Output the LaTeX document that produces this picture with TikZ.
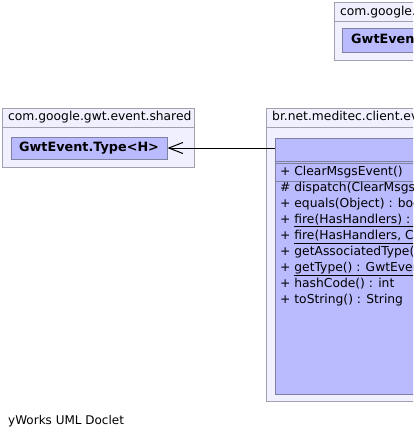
\documentclass[tikz,border=0pt]{standalone}
\usepackage{fontspec}
\setmainfont{DejaVu Sans}
\usetikzlibrary{arrows.meta}
\definecolor{pkgfill}{RGB}{240,240,255}
\definecolor{pkgdraw}{RGB}{160,160,176}
\definecolor{clsfill}{RGB}{186,186,255}
\definecolor{clsdraw}{RGB}{128,128,160}
\tikzset{
  pkgbox/.style={draw=pkgdraw, fill=pkgfill, line width=1pt},
  clsbox/.style={draw=clsdraw, fill=clsfill, line width=1pt},
  lbl/.style={anchor=west, inner sep=0pt, text height=9pt, text depth=3pt, font=\fontsize{12.3}{14}\selectfont},
  blbl/.style={lbl, font=\fontsize{12.8}{14}\selectfont\bfseries},
  sep/.style={draw=clsdraw, line width=1pt},
  hsep/.style={draw=pkgdraw, line width=1pt},
  arr/.style={line width=1pt, -{Straight Barb[length=14pt, width=11pt, line width=1pt]}}
}
\begin{document}
\begin{tikzpicture}[x=1pt, y=-1pt]
\useasboundingbox (0,0) rectangle (413,439);
\fill[white] (0,0) rectangle (413,439);
\clip (0,0) rectangle (413,439);

% top-right package
\path[pkgbox] (334.5,2.5) rectangle (700,60.5);
\coordinate (tl) at (334.5,21.5);
\draw[hsep] (tl) -- (700,21.5);
\node[lbl] (tph) at (340,12) {com.google.gwt.event.shared};
\path[clsbox] (342.5,28.5) rectangle (700,52.5);
\node[blbl] (tpc) at (351,40) {GwtEvent<H>};

% left package
\path[pkgbox] (2.5,108.5) rectangle (194.5,167.5);
\draw[hsep] (2.5,127.5) -- (194.5,127.5);
\node[lbl] (lph) at (8,117) {com.google.gwt.event.shared};
\node[clsbox, anchor=north west, minimum width=156pt, minimum height=22pt, inner sep=0pt] (clsA) at (10.5,136.5) {};
\node[blbl, anchor=center] (clsAt) at (clsA.center) {GwtEvent.Type<H>};

% right package
\path[pkgbox] (266.5,108.5) rectangle (700,401.5);
\draw[hsep] (266.5,127.5) -- (700,127.5);
\node[lbl] (rph) at (272,117) {br.net.meditec.client.event};
\node[clsbox, anchor=north west, minimum width=420pt, minimum height=256pt, inner sep=0pt] (clsR) at (274.5,137.5) {};
\draw[sep] (274.5,161.5) -- (700,161.5);
\draw[sep] (274.5,163.5) -- (700,163.5);
\draw[sep] (274.5,181.5) -- (700,181.5);

\node[lbl] (m0) at (280,172) {+ ClearMsgsEvent()};
\node[lbl] (m1) at (280,188) {\# dispatch(ClearMsgsHandler) : void};
\node[lbl] (m2) at (280,204) {+ equals(Object) : boolean};
\node[lbl] (m3) at (280,220) {+ \underline{fire(HasHandlers) : void}};
\node[lbl] (m4) at (280,236.5) {+ \underline{fire(HasHandlers, ClearMsgsEvent) : void}};
\node[lbl] (m5) at (280,252.5) {+ getAssociatedType() : Type};
\node[lbl] (m6) at (280,268.5) {+ \underline{getType() : GwtEvent.Type}};
\node[lbl] (m7) at (280,284.5) {+ hashCode() : int};
\node[lbl] (m8) at (280,300.5) {+ toString() : String};

% connector
\draw[arr] (clsR.west |- clsA.east) -- (clsA.east);

% footer
\node[lbl, font=\fontsize{12}{14}\selectfont] (foot) at (8,421) {yWorks UML Doclet};
\end{tikzpicture}
\end{document}
